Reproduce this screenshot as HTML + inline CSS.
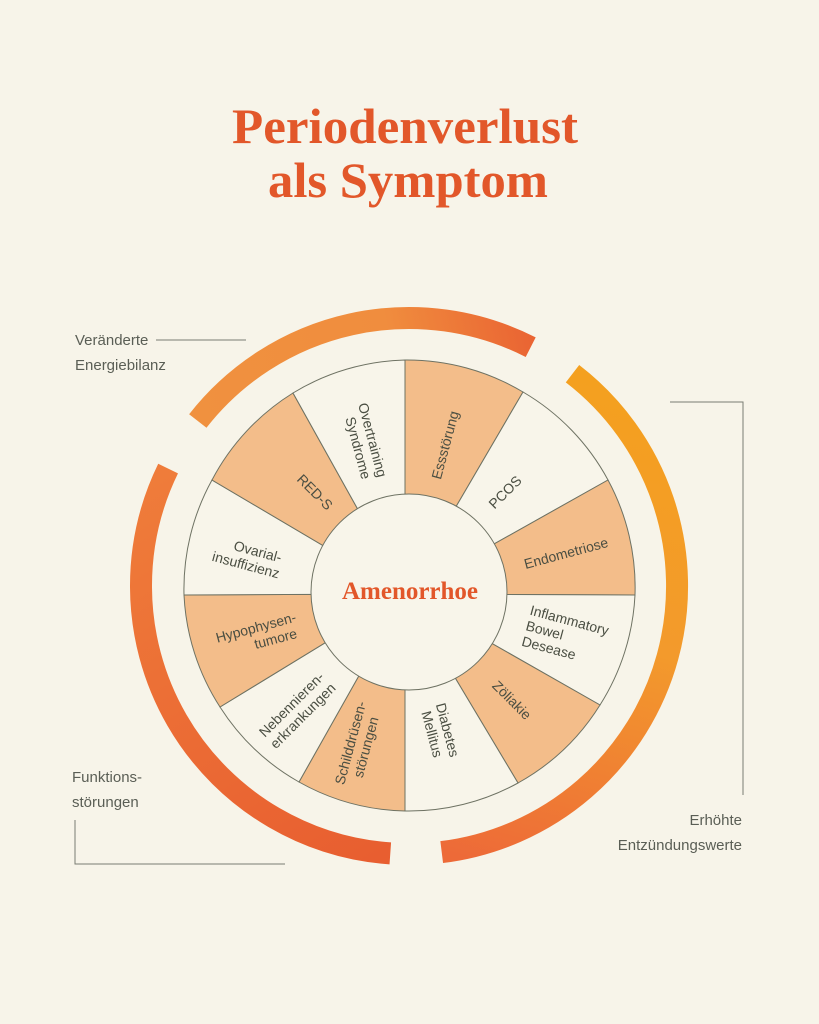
<!DOCTYPE html>
<html><head><meta charset="utf-8"><style>
html,body{margin:0;padding:0;background:#f7f4e9;}
svg{display:block;}
.t{font-family:"Liberation Sans","DejaVu Sans",sans-serif;font-size:14px;fill:#4a4e42;text-anchor:middle;}
.l{font-family:"Liberation Sans","DejaVu Sans",sans-serif;font-size:15px;fill:#5a5e55;}
</style></head><body>
<svg width="819" height="1024" viewBox="0 0 819 1024" xmlns="http://www.w3.org/2000/svg">
<defs>
<linearGradient id="gt" gradientUnits="userSpaceOnUse" x1="198" y1="420" x2="531" y2="347"><stop offset="0" stop-color="#f0913f"/><stop offset="0.6" stop-color="#f08d3e"/><stop offset="1" stop-color="#ea6533"/></linearGradient>
<linearGradient id="gr" gradientUnits="userSpaceOnUse" x1="572" y1="374" x2="442" y2="852"><stop offset="0" stop-color="#f4a01f"/><stop offset="0.5" stop-color="#f39a2c"/><stop offset="1" stop-color="#ed6a38"/></linearGradient>
<linearGradient id="gl" gradientUnits="userSpaceOnUse" x1="168" y1="469" x2="390" y2="853"><stop offset="0" stop-color="#ef7c3a"/><stop offset="1" stop-color="#e85e30"/></linearGradient>
</defs>
<rect width="819" height="1024" fill="#f7f4e9"/>
<text x="405" y="143" text-anchor="middle" font-family="Liberation Serif,serif" font-weight="bold" font-size="50" fill="#e2572a" textLength="346" lengthAdjust="spacingAndGlyphs">Periodenverlust</text>
<text x="408" y="197" text-anchor="middle" font-family="Liberation Serif,serif" font-weight="bold" font-size="50" fill="#e2572a" textLength="280" lengthAdjust="spacingAndGlyphs">als Symptom</text>

<path d="M197.8,421 A268,268 0 0 1 530.7,347.2" fill="none" stroke="url(#gt)" stroke-width="22"/>
<path d="M572.5,373.7 A268,268 0 0 1 441.7,852.1" fill="none" stroke="url(#gr)" stroke-width="22"/>
<path d="M390.3,853.4 A268,268 0 0 1 168.1,468.6" fill="none" stroke="url(#gl)" stroke-width="22"/>

<g stroke="#6e7263" stroke-width="1">
<path d="M405,594 L405,360 A226,226 0 0 1 523,392 Z" fill="#f3bd8a"/>
<path d="M405,594 L523,392 A226,226 0 0 1 608,480 Z" fill="#f8f5ea"/>
<path d="M405,594 L608,480 A226,226 0 0 1 635,595 Z" fill="#f3bd8a"/>
<path d="M405,594 L635,595 A226,226 0 0 1 600,705 Z" fill="#f8f5ea"/>
<path d="M405,594 L600,705 A226,226 0 0 1 518,783 Z" fill="#f3bd8a"/>
<path d="M405,594 L518,783 A226,226 0 0 1 405,811 Z" fill="#f8f5ea"/>
<path d="M405,594 L405,811 A226,226 0 0 1 299,782 Z" fill="#f3bd8a"/>
<path d="M405,594 L299,782 A226,226 0 0 1 220,707 Z" fill="#f8f5ea"/>
<path d="M405,594 L220,707 A226,226 0 0 1 184,595 Z" fill="#f3bd8a"/>
<path d="M405,594 L184,595 A226,226 0 0 1 212,480 Z" fill="#f8f5ea"/>
<path d="M405,594 L212,480 A226,226 0 0 1 293,393 Z" fill="#f3bd8a"/>
<path d="M405,594 L293,393 A226,226 0 0 1 405,360 Z" fill="#f8f5ea"/>
<circle cx="409" cy="592" r="98" fill="#f8f5ea"/>
</g>
<text x="410" y="599" text-anchor="middle" font-family="Liberation Serif,serif" font-weight="bold" font-size="25" fill="#e2572a" textLength="136" lengthAdjust="spacingAndGlyphs">Amenorrhoe</text>

<g class="t">
<g transform="translate(445,445) rotate(-75)"><text y="5">Essstörung</text></g>
<g transform="translate(505,492) rotate(-45)"><text y="5">PCOS</text></g>
<g transform="translate(566,553) rotate(-15)"><text y="5">Endometriose</text></g>
<g transform="translate(563,635) rotate(15)"><text x="-38" y="-11" text-anchor="start">Inflammatory</text><text x="-38" y="5" text-anchor="start">Bowel</text><text x="-38" y="21" text-anchor="start">Desease</text></g>
<g transform="translate(512,700) rotate(45)"><text y="5">Zöliakie</text></g>
<g transform="translate(440,732) rotate(75)"><text y="-3">Diabetes</text><text y="13">Mellitus</text></g>
<g transform="translate(358,745) rotate(-75)"><text y="-3">Schilddrüsen-</text><text y="13">störungen</text></g>
<g transform="translate(297,710) rotate(-45)"><text y="-3">Nebennieren-</text><text y="13">erkrankungen</text></g>
<g transform="translate(258,635) rotate(-15)"><text y="-3">Hypophysen-</text><text x="16" y="13">tumore</text></g>
<g transform="translate(248,557) rotate(15)"><text x="8" y="-3">Ovarial-</text><text y="13">insuffizienz</text></g>
<g transform="translate(315,492) rotate(45)"><text y="5">RED-S</text></g>
<g transform="translate(365,442) rotate(75)"><text y="-3">Overtraining</text><text x="4" y="13">Syndrome</text></g>
</g>

<text class="l" x="75" y="345">Veränderte</text>
<text class="l" x="75" y="370">Energiebilanz</text>
<line x1="156" y1="340" x2="246" y2="340" stroke="#7a7d72" stroke-width="1"/>

<text class="l" x="72" y="782">Funktions-</text>
<text class="l" x="72" y="807">störungen</text>
<polyline points="75,820 75,864 285,864" fill="none" stroke="#7a7d72" stroke-width="1"/>

<text class="l" x="742" y="825" text-anchor="end">Erhöhte</text>
<text class="l" x="742" y="850" text-anchor="end">Entzündungswerte</text>
<polyline points="670,402 743,402 743,795" fill="none" stroke="#7a7d72" stroke-width="1"/>
</svg>
</body></html>
